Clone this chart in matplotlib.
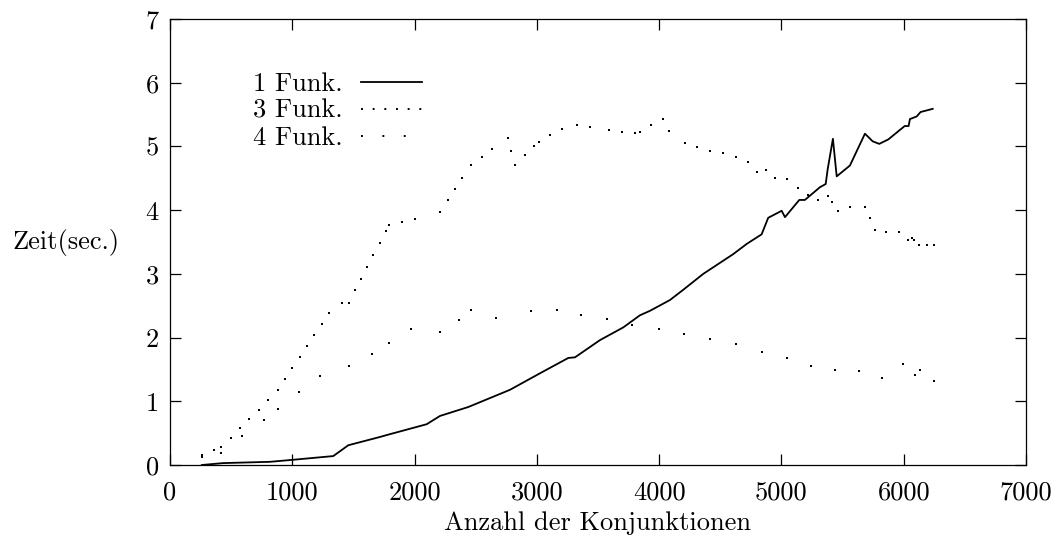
import matplotlib
matplotlib.use("Agg")
import matplotlib.pyplot as plt
from matplotlib.lines import Line2D

plt.rcParams['font.family'] = ['cmr10', 'DejaVu Serif']
plt.rcParams['axes.formatter.use_mathtext'] = True
plt.rcParams['mathtext.fontset'] = 'cm'

# 1 Funk. (solid line)
f1_x = [260, 436, 818, 995, 1335, 1458, 1717, 1772, 2099, 2208, 2439, 2780, 3026, 3257,
        3312, 3516, 3707, 3843, 3925, 4089, 4197, 4361, 4606, 4716, 4797, 4838, 4892,
        5002, 5029, 5146, 5192, 5315, 5362, 5378, 5421, 5452, 5560, 5683, 5746, 5800,
        5874, 6008, 6040, 6051, 6106, 6138, 6237]
f1_y = [0.0, 0.03, 0.05, 0.08, 0.14, 0.31, 0.44, 0.47, 0.64, 0.77, 0.91, 1.18, 1.44, 1.68,
        1.69, 1.96, 2.16, 2.35, 2.42, 2.59, 2.75, 3.00, 3.31, 3.47, 3.57, 3.62, 3.88,
        3.99, 3.89, 4.16, 4.16, 4.36, 4.41, 4.64, 5.12, 4.53, 4.70, 5.20, 5.08, 5.04,
        5.11, 5.32, 5.32, 5.43, 5.47, 5.54, 5.59]

# 3 Funk. (dots)
f3_x = [260, 360, 419, 496, 572, 648, 725, 801, 881, 940, 1000, 1063, 1123, 1180, 1243,
        1303, 1409, 1466, 1515, 1564, 1613, 1662, 1715, 1764, 1791, 1897, 2003, 2205,
        2276, 2333, 2390, 2461, 2549, 2635, 2766, 2791, 2824, 2900, 2979, 3017, 3110,
        3208, 3326, 3432, 3592, 3698, 3802, 3846, 3936, 4034, 4083, 4209, 4313, 4418,
        4524, 4631, 4724, 4797, 4871, 4950, 5048, 5133, 5215, 5299, 5378, 5416, 5462,
        5563, 5686, 5726, 5767, 5857, 5961, 6037, 6065, 6086, 6127, 6192, 6250]
f3_y = [0.15, 0.235, 0.28, 0.43, 0.58, 0.72, 0.87, 1.02, 1.17, 1.35, 1.52, 1.69, 1.87,
        2.04, 2.21, 2.39, 2.54, 2.55, 2.74, 2.92, 3.11, 3.29, 3.48, 3.67, 3.77, 3.81,
        3.86, 3.97, 4.16, 4.33, 4.50, 4.71, 4.83, 4.96, 5.13, 4.93, 4.71, 4.86, 5.00,
        5.07, 5.18, 5.27, 5.34, 5.31, 5.26, 5.22, 5.21, 5.22, 5.33, 5.43, 5.25, 5.05,
        4.99, 4.93, 4.89, 4.84, 4.75, 4.60, 4.63, 4.51, 4.49, 4.35, 4.24, 4.16, 4.22,
        4.13, 3.98, 4.05, 4.05, 3.88, 3.69, 3.65, 3.66, 3.53, 3.57, 3.53, 3.45, 3.45, 3.46]

# 4 Funk. (dots)
f4_x = [259, 419, 591, 766, 881, 1052, 1224, 1466, 1654, 1793, 1973, 2205, 2366, 2461,
        2668, 2952, 3162, 3363, 3576, 3780, 3996, 4205, 4418, 4631, 4841, 5048, 5241,
        5438, 5636, 5824, 5994, 6094, 6135, 6250]
f4_y = [0.13, 0.19, 0.46, 0.71, 0.88, 1.14, 1.39, 1.55, 1.75, 1.91, 2.14, 2.09, 2.28,
        2.43, 2.30, 2.42, 2.44, 2.35, 2.29, 2.19, 2.14, 2.06, 1.98, 1.90, 1.78, 1.68,
        1.55, 1.49, 1.48, 1.37, 1.58, 1.41, 1.49, 1.32]

labels = ['1 Funk.', '3 Funk.', '4 Funk.']
x_ticks = [0, 1000, 2000, 3000, 4000, 5000, 6000, 7000]
y_ticks = [0, 1, 2, 3, 4, 5, 6, 7]

fs = 19
fig = plt.figure(figsize=(10.58, 5.44), dpi=100)
ax = fig.add_axes([170 / 1058, 1 - 465 / 544, 856 / 1058, 446 / 544])

ax.plot(f1_x, f1_y, color='black', lw=1.3)
ax.plot(f3_x, f3_y, ls='none', marker='s', ms=1.7, mew=0, color='black')
ax.plot(f4_x, f4_y, ls='none', marker='s', ms=1.7, mew=0, color='black')

ax.set_xlim(0, 7000)
ax.set_ylim(0, 7)
ax.set_xticks(x_ticks)
ax.set_yticks(y_ticks)
ax.set_xticklabels([str(v) for v in x_ticks])
ax.set_yticklabels([str(v) for v in y_ticks])
ax.tick_params(direction='in', length=8, width=0.9, top=True, right=True,
               labelsize=fs, pad=8, colors='black')
ax.tick_params(axis='x', pad=11)
for s in ax.spines.values():
    s.set_linewidth(0.9)

ax.set_xlabel('Anzahl der Konjunktionen', fontsize=fs, labelpad=5)
ax.set_ylabel('Zeit(sec.)', fontsize=fs, rotation=0, ha='center', va='center')
ax.yaxis.set_label_coords(-0.122, 0.5)

handles = [
    Line2D([], [], color='black', lw=1.3),
    Line2D([], [], color='black', lw=1.4, ls=(0, (1, 5))),
    Line2D([], [], color='black', lw=1.4, ls=(0, (1, 10))),
]
ax.legend(handles, labels, loc='upper left', bbox_to_anchor=(0.0815, 0.91),
          frameon=False, fontsize=fs, markerfirst=False, handlelength=2.3,
          handletextpad=0.7, labelspacing=0.12, borderpad=0.0)

fig.savefig('out.png', dpi=100)
